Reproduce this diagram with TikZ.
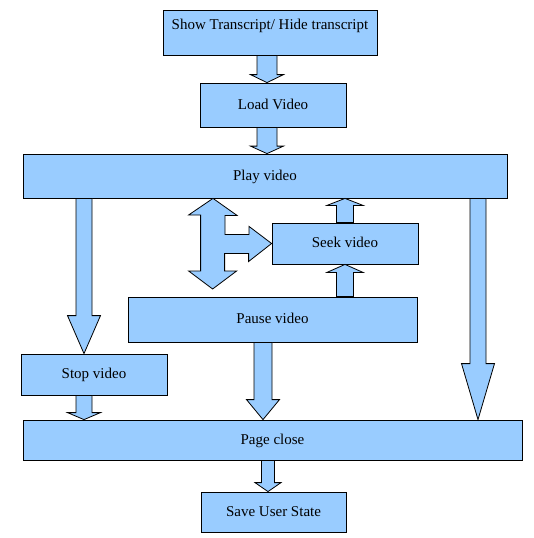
\documentclass[tikz,border=0pt]{standalone}
\usepackage{fontspec}
\setmainfont{Liberation Serif}
\usetikzlibrary{calc}

\definecolor{boxblue}{RGB}{153,204,255}

% from, tip, shaft half-width, head half-width, head length
\newcommand{\blockarrow}[5]{%
  \coordinate (ba-from) at (#1);
  \coordinate (ba-to) at (#2);
  \coordinate (ba-base) at ($(ba-to)!#5!(ba-from)$);
  \draw[flowarrow] ($(ba-from)!#3!90:(ba-to)$) -- ($(ba-base)!#3!90:(ba-to)$)
    -- ($(ba-base)!#4!90:(ba-to)$) -- (ba-to) -- ($(ba-base)!#4!-90:(ba-to)$)
    -- ($(ba-base)!#3!-90:(ba-to)$) -- ($(ba-from)!#3!-90:(ba-to)$) -- cycle;
}

\begin{document}
\begin{tikzpicture}[x=1pt,y=-1pt,
every node/.style={font=\fontsize{15}{18}\selectfont},
procbox/.style={draw,fill=boxblue,line width=0.8pt,inner sep=0pt,text height=11pt,text depth=2.5pt},
flowarrow/.style={draw,fill=boxblue,line width=0.8pt,line join=miter}]

\useasboundingbox (0,0) rectangle (534,538);

\node[procbox,minimum width=214pt,text height=19.5pt,text depth=25.5pt] (show) at (270,32.5) {Show Transcript/ Hide transcript};
\node[procbox,minimum width=146pt,minimum height=44pt] (load) at (273,105) {Load Video};
\node[procbox,minimum width=484pt,minimum height=44pt] (play) at (265,176) {Play video};
\node[procbox,minimum width=146pt,minimum height=41pt] (seek) at (345,243.5) {Seek video};
\node[procbox,minimum width=289pt,minimum height=45pt] (pause) at (272.5,319.5) {Pause video};
\node[procbox,minimum width=146pt,minimum height=41pt] (stop) at (94,374.5) {Stop video};
\node[procbox,minimum width=499pt,minimum height=40pt] (close) at (272.5,440) {Page close};
\node[procbox,minimum width=145pt,minimum height=40pt] (save) at (273.5,512) {Save User State};

% arrow columns
\coordinate (colTop) at (267,0);
\coordinate (colL) at (84,0);
\coordinate (colR) at (478,0);
\coordinate (colP) at (263,0);
\coordinate (colB) at (268,0);
\coordinate (colS) at (345,0);
\coordinate (colT) at (213,0);

\blockarrow{show.south -| colTop}{load.north -| colTop}{10pt}{16.5pt}{8pt}
\blockarrow{load.south -| colTop}{play.north -| colTop}{10pt}{16.5pt}{7.5pt}
\blockarrow{play.south -| colL}{stop.north -| colL}{8pt}{16.5pt}{38pt}
\blockarrow{stop.south -| colL}{close.north -| colL}{8pt}{16.5pt}{7pt}
\blockarrow{play.south -| colR}{close.north -| colR}{8pt}{16.5pt}{56pt}
\blockarrow{pause.south -| colP}{close.north -| colP}{9pt}{16.5pt}{20pt}
\blockarrow{close.south -| colB}{save.north -| colB}{6.5pt}{13pt}{9pt}
\blockarrow{pause.north -| colS}{seek.south -| colS}{8.5pt}{18pt}{8pt}
\blockarrow{seek.north -| colS}{play.south -| colS}{8.5pt}{18pt}{7pt}

% play / pause / seek
\draw[flowarrow] (play.south -| colT) -- ++(24,17) -- ++(-12,0) -- ++(0,19) -- ++(24,0)
  -- ++(0,-8) -- (seek.west) -- ++(-23,18) -- ++(0,-8) -- ++(-24,0) -- ++(0,17.5)
  -- ++(12,0) -- ++(-24,18) -- ++(-24,-18) -- ++(12,0) -- ++(0,-56) -- ++(-12,0) -- cycle;

\end{tikzpicture}
\end{document}
